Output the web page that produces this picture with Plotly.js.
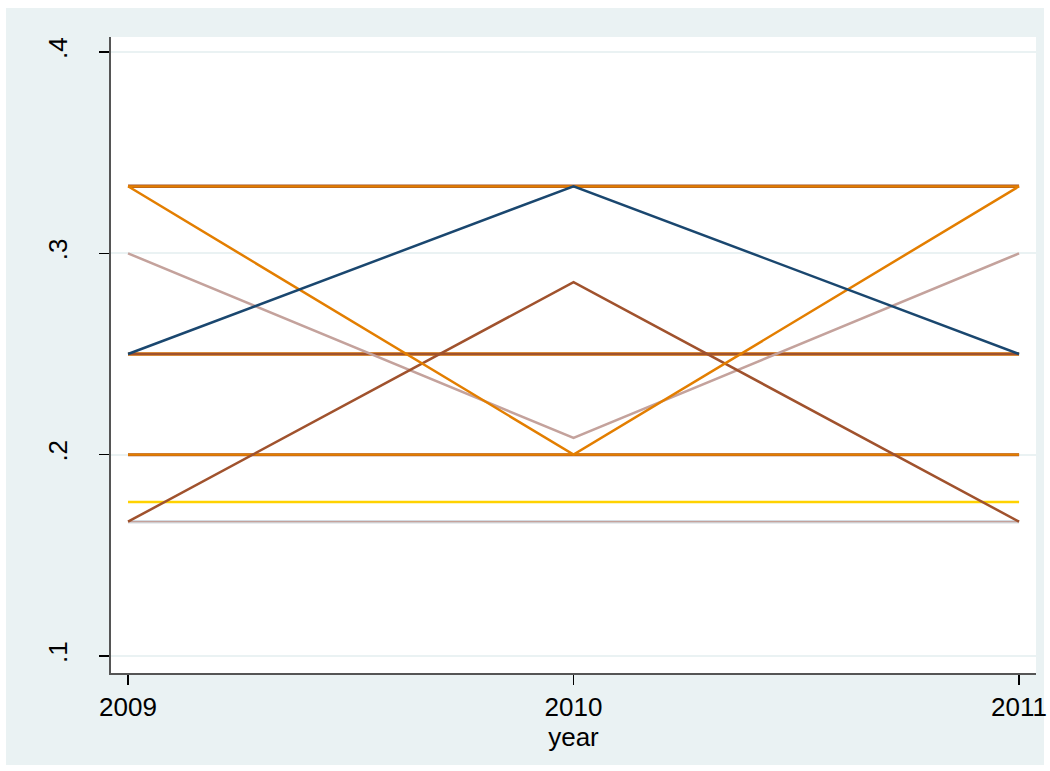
<!DOCTYPE html>
<html>
<head>
<meta charset="utf-8">
<script src="https://cdn.plot.ly/plotly-3.0.1.min.js"></script>
<style>
html,body{margin:0;padding:0;background:#ffffff;}
#bg{position:absolute;left:6px;top:8px;width:1038px;height:757px;background:#eaf2f3;}
#chart{position:absolute;left:0;top:0;width:1050px;height:771px;}
</style>
</head>
<body>
<div id="bg"></div>
<div id="chart"></div>
<script>
const years = [2009, 2010, 2011];

const flatThird = [0.3333, 0.3333, 0.3333];
const orangeV = [0.3333, 0.2, 0.3333];
const navyPeak = [0.25, 0.3333, 0.25];
const roseV = [0.3, 0.2083, 0.3];
const siennaPeak = [0.1667, 0.2857, 0.1667];
const flatQuarter = [0.25, 0.25, 0.25];
const flatFifth = [0.2, 0.2, 0.2];
const goldFlat = [0.1765, 0.1765, 0.1765];
const flatSixth = [0.1667, 0.1667, 0.1667];

const yTicks = [0.1, 0.2, 0.3, 0.4];
const yTickText = ['.1', '.2', '.3', '.4'];
const xTicks = [2009, 2010, 2011];
const xTickText = ['2009', '2010', '2011'];

function line(y, color, width) {
  return {x: years, y: y, type: 'scatter', mode: 'lines',
          line: {color: color, width: width}, hoverinfo: 'skip', showlegend: false};
}

const traces = [
  line(flatSixth, '#d5dbe1', 3.5),
  line(flatSixth, '#c4a29c', 1.2),
  line(goldFlat, '#ffd200', 2.5),
  line(flatFifth, '#a0522d', 3),
  line(flatFifth, '#e37e00', 2.2),
  line(flatQuarter, '#e37e00', 3.5),
  line(flatQuarter, '#a0522d', 2.5),
  line(flatThird, '#a0522d', 3.5),
  line(flatThird, '#e37e00', 2.2),
  line(roseV, '#c4a29c', 2.5),
  line(siennaPeak, '#a0522d', 2.5),
  line(orangeV, '#e37e00', 2.5),
  line(navyPeak, '#1a476f', 2.5)
];

const layout = {
  width: 1050, height: 771,
  paper_bgcolor: 'rgba(0,0,0,0)',
  plot_bgcolor: '#ffffff',
  margin: {l: 111, r: 14, t: 37, b: 98, pad: 0},
  font: {family: 'Liberation Sans, Arial, sans-serif', color: '#000000', size: 26},
  showlegend: false,
  xaxis: {
    range: [2008.9618, 2011.038],
    tickvals: xTicks, ticktext: xTickText,
    ticks: 'outside', ticklen: 10, tickwidth: 1.5, tickcolor: '#000000',
    showline: true, linecolor: '#555555', linewidth: 2,
    showgrid: false, zeroline: false,
    tickfont: {size: 26},
    title: {text: 'year', font: {size: 26}, standoff: 2}
  },
  yaxis: {
    range: [0.09155, 0.40745],
    tickvals: yTicks, ticktext: yTickText,
    ticks: 'outside', ticklen: 10, tickwidth: 1.5, tickcolor: '#000000',
    tickangle: -90,
    showline: true, linecolor: '#555555', linewidth: 2,
    showgrid: true, gridcolor: '#eaf2f3', gridwidth: 2,
    zeroline: false,
    tickfont: {size: 26},
    ticklabelstandoff: 22
  }
};

Plotly.newPlot('chart', traces, layout, {staticPlot: true});
</script>
</body>
</html>
